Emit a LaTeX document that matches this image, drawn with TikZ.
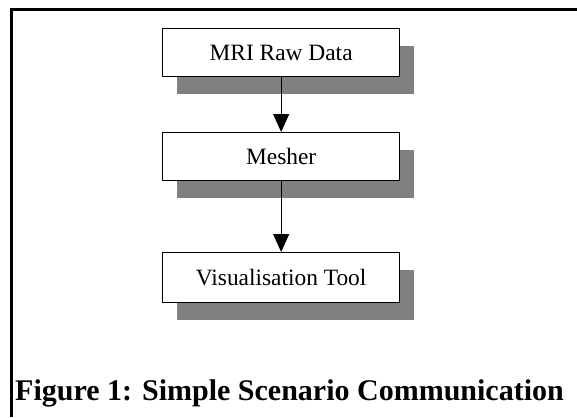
\documentclass[tikz,border=0pt]{standalone}
\usepackage{fontspec}
\setmainfont{Liberation Serif}
\usetikzlibrary{shadows,arrows.meta}
\begin{document}
\begin{tikzpicture}[x=1pt,y=-1pt,
  stepbox/.style={draw=black, line width=1.3pt, fill=white, rectangle,
    minimum width=237pt, minimum height=48pt, inner sep=0pt, anchor=north west,
    font=\fontsize{23.4}{28}\selectfont,
    general shadow={fill=black!50, shadow xshift=14pt, shadow yshift=-17pt}},
  flow/.style={line width=1pt, -{Triangle[width=16pt,length=18pt]}}]
\useasboundingbox (0,0) rectangle (577,417);
\draw[line width=3pt] (11.5,417) -- (11.5,9.5) -- (577,9.5);
\node[stepbox] (a) at (162,28) {MRI Raw Data};
\node[stepbox] (b) at (162,132) {Mesher};
\node[stepbox, minimum height=50pt] (c) at (162,252) {Visualisation Tool};
\draw[flow] (a.south) -- (b.north);
\draw[flow] (b.south) -- (c.north);
\node[anchor=base west, inner sep=0pt, font=\fontsize{30}{36}\selectfont\bfseries] (cap) at (15,400) {Figure 1: Simple Scenario Communication};
\end{tikzpicture}
\end{document}
